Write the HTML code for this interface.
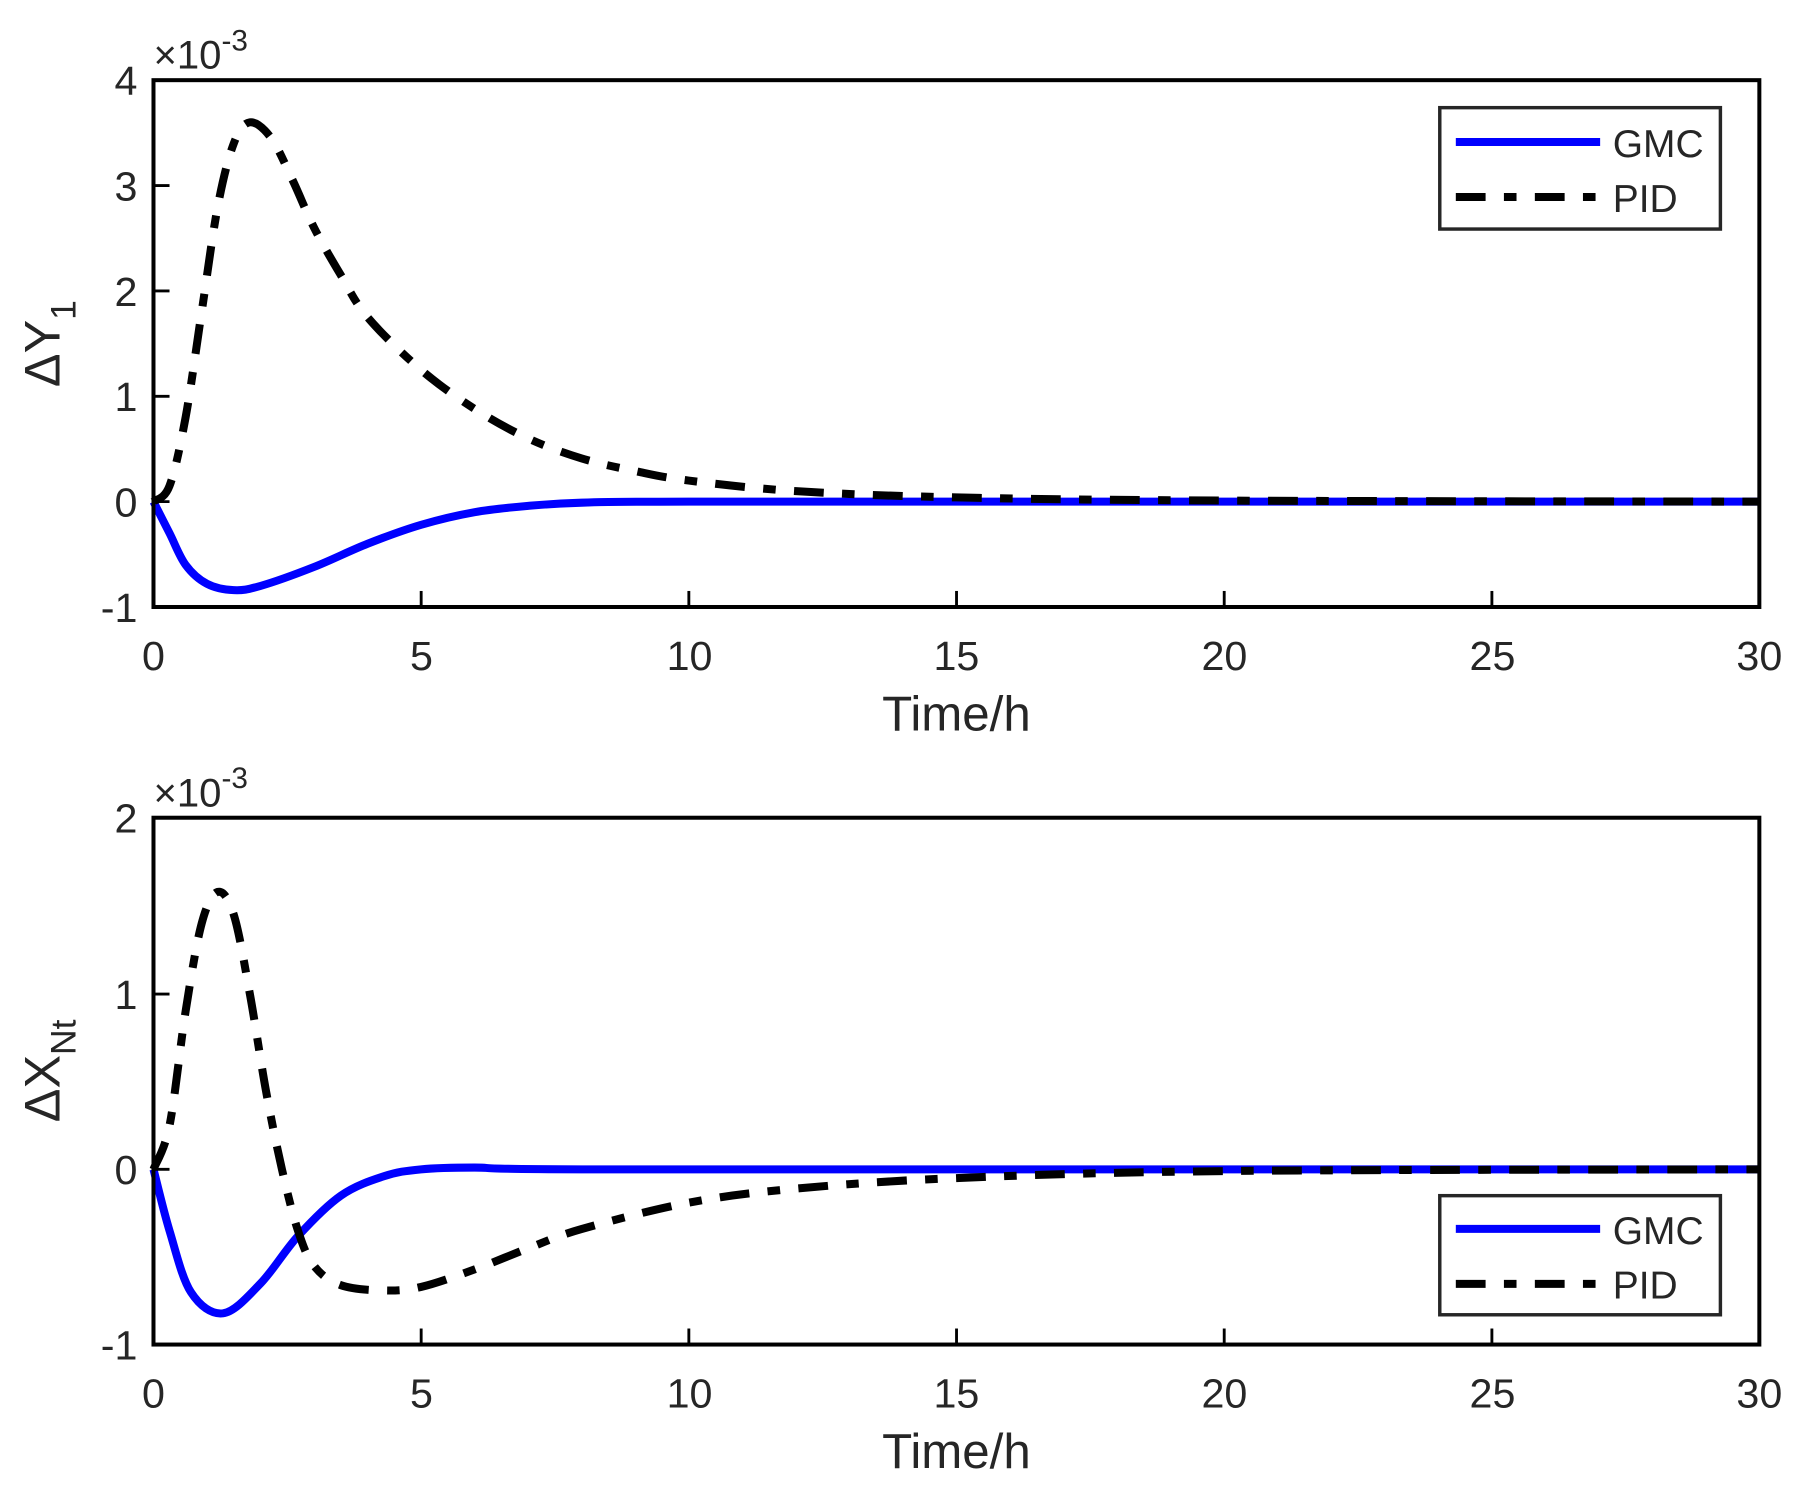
<!DOCTYPE html>
<html><head><meta charset="utf-8"><style>
html,body{margin:0;padding:0;background:#fff}
svg{display:block}
text{font-family:"Liberation Sans",Arial,sans-serif;fill:#262626}
</style></head><body>
<svg id="s" width="1796" height="1490" viewBox="0 0 1568 1301" preserveAspectRatio="none" xmlns="http://www.w3.org/2000/svg">
<rect width="1568" height="1301" fill="#fff"/>
<g id="plots"></g>
<rect x="134" y="70" width="1402" height="460" fill="none" stroke="#000" stroke-width="3.5"/>
<g font-size="36" text-anchor="end">
<text x="120" y="83">4</text><text x="120" y="175">3</text><text x="120" y="267">2</text><text x="120" y="359">1</text><text x="120" y="451">0</text><text x="120" y="543">-1</text>
</g>
<g font-size="36" text-anchor="middle">
<text x="134" y="585">0</text><text x="368" y="585">5</text><text x="602" y="585">10</text><text x="835" y="585">15</text><text x="1069" y="585">20</text><text x="1303" y="585">25</text><text x="1536" y="585">30</text>
<text x="835" y="638" font-size="43">Time/h</text>
</g>
<text x="134" y="60" font-size="35">×10<tspan font-size="26" dy="-16">-3</tspan></text>
<text transform="translate(52,300) rotate(-90)" font-size="44" text-anchor="middle">ΔY<tspan font-size="31" dy="14">1</tspan></text>
<rect x="134" y="714" width="1402" height="460" fill="none" stroke="#000" stroke-width="3.5"/>
<g font-size="36" text-anchor="end">
<text x="120" y="727">2</text><text x="120" y="881">1</text><text x="120" y="1034">0</text><text x="120" y="1187">-1</text>
</g>
<g font-size="36" text-anchor="middle">
<text x="134" y="1229">0</text><text x="368" y="1229">5</text><text x="602" y="1229">10</text><text x="835" y="1229">15</text><text x="1069" y="1229">20</text><text x="1303" y="1229">25</text><text x="1536" y="1229">30</text>
<text x="835" y="1282" font-size="43">Time/h</text>
</g>
<text x="134" y="704" font-size="35">×10<tspan font-size="26" dy="-16">-3</tspan></text>
<text transform="translate(52,935) rotate(-90)" font-size="44" text-anchor="middle">ΔX<tspan font-size="31" dy="14">Nt</tspan></text>
<g>
<rect x="1257" y="94" width="245" height="106" fill="#fff" stroke="#262626" stroke-width="3"/>
<line x1="1271" y1="124" x2="1397" y2="124" stroke="#0000ff" stroke-width="7"/>
<line x1="1271" y1="172" x2="1397" y2="172" stroke="#000" stroke-width="7" stroke-dasharray="26 16 11 16"/>
<text x="1408" y="137" font-size="34" fill="#000">GMC</text>
<text x="1408" y="185" font-size="34" fill="#000">PID</text>
</g>
<g>
<rect x="1257" y="1044" width="245" height="104" fill="#fff" stroke="#262626" stroke-width="3"/>
<line x1="1271" y1="1073" x2="1397" y2="1073" stroke="#0000ff" stroke-width="7"/>
<line x1="1271" y1="1121" x2="1397" y2="1121" stroke="#000" stroke-width="7" stroke-dasharray="26 16 11 16"/>
<text x="1408" y="1086" font-size="34" fill="#000">GMC</text>
<text x="1408" y="1134" font-size="34" fill="#000">PID</text>
</g>
</svg>
<script>
(function(){
var NS="http://www.w3.org/2000/svg";
var g=document.getElementById('plots');
function path(pts,x0,xs,y0,ys,color,dash){
  var P=pts.map(function(p){return [x0+p[0]*xs,y0-p[1]*ys];});
  var d="M"+P[0][0]+","+P[0][1];
  for(var i=0;i<P.length-1;i++){
    var p0=P[i-1]||P[i],p1=P[i],p2=P[i+1],p3=P[i+2]||P[i+1];
    var c1=[p1[0]+(p2[0]-p0[0])/6,p1[1]+(p2[1]-p0[1])/6];
    var c2=[p2[0]-(p3[0]-p1[0])/6,p2[1]-(p3[1]-p1[1])/6];
    d+="C"+c1[0]+","+c1[1]+" "+c2[0]+","+c2[1]+" "+p2[0]+","+p2[1];
  }
  var e=document.createElementNS(NS,'path');
  e.setAttribute('d',d);e.setAttribute('fill','none');e.setAttribute('stroke',color);
  e.setAttribute('stroke-width','7');
  if(dash)e.setAttribute('stroke-dasharray',dash);
  g.appendChild(e);
}
var xs=46.73;
path([[0,0],[0.3,-0.3],[0.6,-0.6],[1,-0.78],[1.5,-0.84],[2,-0.8],[3,-0.62],[4,-0.4],[5,-0.22],[6,-0.1],[7,-0.04],[8,-0.01],[10,0],[20,0],[30,0]],134,xs,438,92,'#0000ff');
path([[0,0],[0.3,0.15],[0.6,0.8],[0.9,1.8],[1.2,2.8],[1.5,3.4],[1.8,3.6],[2.2,3.45],[2.6,3.05],[3,2.6],[3.5,2.15],[4,1.75],[5,1.25],[6,0.88],[7,0.6],[8,0.41],[9,0.29],[10,0.2],[12,0.1],[15,0.04],[20,0.01],[30,0]],134,xs,438,92,'#000','26 16 11 16');
path([[0,0],[0.3,-0.35],[0.7,-0.7],[1.3,-0.82],[2,-0.65],[2.7,-0.38],[3.5,-0.15],[4.3,-0.04],[5,0],[6,0.01],[8,0],[20,0],[30,0]],134,xs,1021,153.3,'#0000ff');
path([[0,0],[0.3,0.25],[0.6,0.9],[0.9,1.4],[1.2,1.58],[1.5,1.45],[1.8,1.0],[2.1,0.45],[2.4,0],[2.7,-0.35],[3,-0.55],[3.5,-0.66],[4.3,-0.69],[5,-0.67],[6,-0.57],[7,-0.45],[8,-0.34],[10,-0.19],[12,-0.11],[15,-0.05],[20,-0.01],[30,0]],134,xs,1021,153.3,'#000','26 16 11 16');
function tick(x1,y1,x2,y2){var e=document.createElementNS(NS,'line');e.setAttribute('x1',x1);e.setAttribute('y1',y1);e.setAttribute('x2',x2);e.setAttribute('y2',y2);e.setAttribute('stroke','#000');e.setAttribute('stroke-width','2.5');document.getElementById('s').appendChild(e);}
[[70,530],[714,1174]].forEach(function(a){
  for(var i=1;i<6;i++){var x=134+i*233.7;tick(x,a[1],x,a[1]-14);}
});
[162,254,346,438].forEach(function(y){tick(134,y,148,y);});
[868,1021].forEach(function(y){tick(134,y,148,y);});
})();
</script>
</body></html>
